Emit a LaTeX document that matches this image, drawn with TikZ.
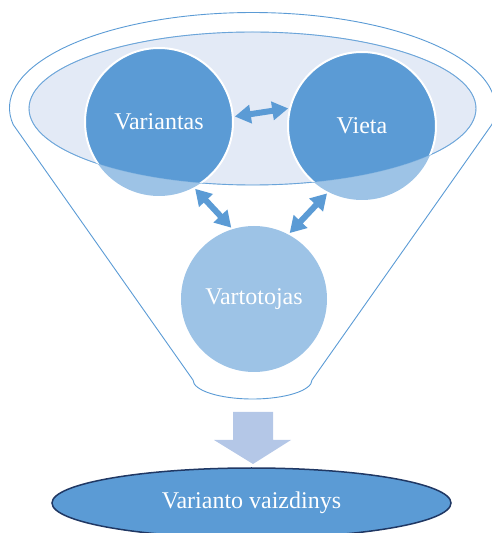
\documentclass[tikz,border=0pt]{standalone}
\usepackage{fontspec}
\setmainfont{Liberation Serif}
\usetikzlibrary{arrows.meta,shapes.geometric}
\definecolor{midblue}{HTML}{5B9BD5}
\definecolor{paleblue}{HTML}{9DC3E6}
\definecolor{mistblue}{HTML}{E3EAF6}
\definecolor{flowblue}{HTML}{B4C7E7}
\definecolor{navy}{HTML}{203864}
\tikzset{
  labelfont/.style={font=\fontsize{24}{28}\selectfont},
  ball/.style={circle, minimum size=148pt, inner sep=0pt, outer sep=0pt, text=white, labelfont},
  topball/.style={ball, fill=midblue, draw=white, line width=2pt},
  lowball/.style={ball, fill=paleblue},
  biarrow/.style={draw=midblue, line width=6pt,
    {Triangle[width=18pt,length=16pt]}-{Triangle[width=18pt,length=16pt]},
    shorten <=2pt, shorten >=2pt},
  rim/.style={draw=midblue, line width=0.9pt},
}
\begin{document}
\begin{tikzpicture}[x=1pt,y=1pt]
\useasboundingbox (0,0) rectangle (492,533);

% funnel outline: upper rim, sloping sides, rounded spout
\draw[rim] (13.2,408.4)
  arc[start angle=190, end angle=-10, x radius=243, y radius=95.5]
  -- (312,153)
  arc[start angle=0, end angle=-180, x radius=59.5, y radius=19]
  -- cycle;

% mouth of the funnel
\filldraw[fill=mistblue, rim] (252.5,424.5) ellipse[x radius=223.5, y radius=76.5];

% centres of the two upper circles
\coordinate (cv) at (159,411);
\coordinate (cw) at (362,407);

% parts of the upper circles that hang below the mouth
\fill[paleblue] (cv) circle[radius=74];
\fill[paleblue] (cw) circle[radius=74];

% parts inside the mouth
\begin{scope}
  \clip (252.5,424.5) ellipse[x radius=223.5, y radius=76.5];
  \node[topball] (v) at (cv) {Variantas};
  \node[topball] (w) at (cw) {Vieta};
\end{scope}

% faint rim edge across the circles
\draw[midblue!70, line width=0.5pt, opacity=0.5]
  (252.5,424.5) ellipse[x radius=223.5, y radius=76.5];

\node[lowball, minimum size=146pt] (u) at (254,234) {Vartotojas};

% links between the circles
\draw[biarrow] (v.4) -- (w.166);
\draw[biarrow] (v.-62) -- (u.107);
\draw[biarrow] (w.243) -- (u.62);

% output arrow
\fill[flowblue] (233,121) -- (273,121) -- (273,93) -- (291,93) -- (253,69)
  -- (214,93) -- (233,93) -- cycle;

% result
\node[ellipse, minimum width=399pt, minimum height=70pt, inner sep=0pt,
      fill=midblue, draw=navy, line width=1.5pt, text=white, labelfont]
  (res) at (251.5,30) {Varianto vaizdinys};
\end{tikzpicture}
\end{document}
